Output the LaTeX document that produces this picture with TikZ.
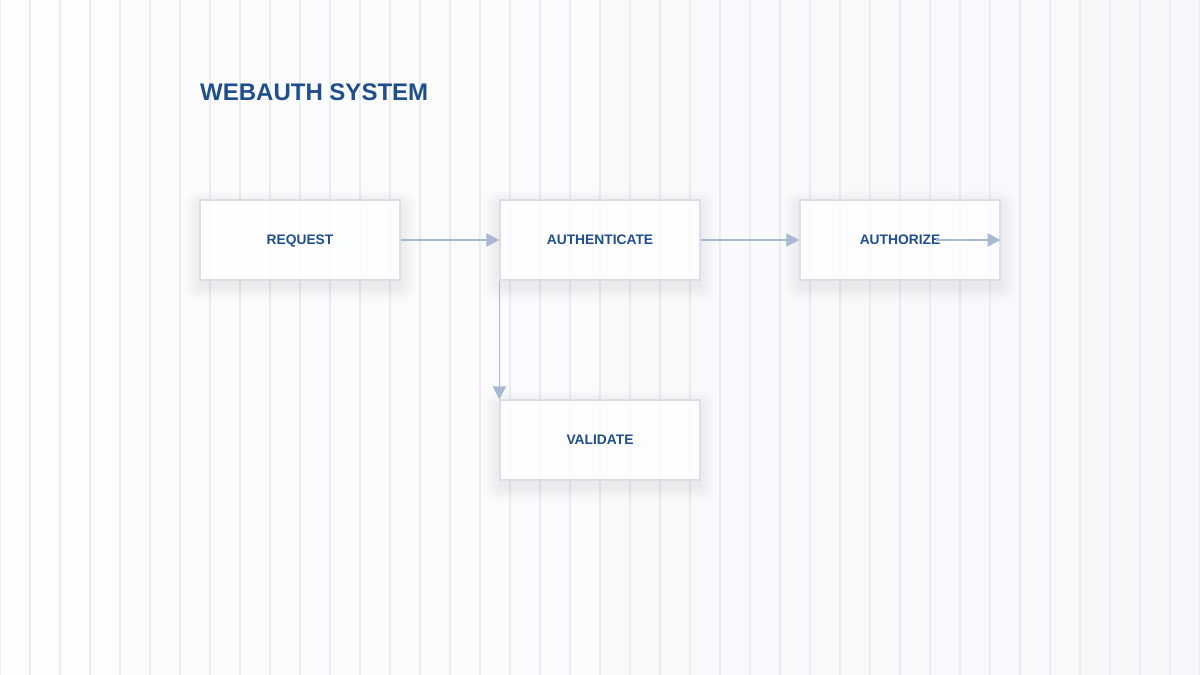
\documentclass[tikz,border=0pt]{standalone}
\usepackage{fontspec}
\setmainfont{Liberation Sans}
\usetikzlibrary{arrows.meta,calc}
\definecolor{bgA}{HTML}{FDFDFE}
\definecolor{bgB}{HTML}{F7F8F9}
\definecolor{gridc}{HTML}{E9ECF3}
\definecolor{boxline}{HTML}{D9DEE8}
\definecolor{txtc}{HTML}{1F4E8C}
\definecolor{arrc}{HTML}{A7B8D2}
\definecolor{shadc}{HTML}{8A94A8}
\tikzset{
  stepbox/.style={draw=boxline, line width=1.2pt, fill=white, fill opacity=0.75,
    text opacity=1, minimum width=200pt, minimum height=80pt, inner sep=0pt,
    text height=9.9pt, text depth=0pt,
    font=\bfseries\fontsize{13.8pt}{16pt}\selectfont, text=txtc},
  flow/.style={draw=arrc, line width=1.6pt, -{Triangle[length=13pt,width=13pt]}},
  gridline/.style={draw=gridc, line width=1.8pt},
  softshadow/.style={fill=shadc, fill opacity=0.009, draw=none}
}
\newcommand{\boxshadow}[2]{%
  \foreach \r in {1,...,16} {
    \fill[softshadow, rounded corners=\r pt] ($(#1)+(-100-\r,-40-\r+6)$) rectangle ($(#1)+(100+\r,40+\r+6)$);
  }%
}
\begin{document}
\begin{tikzpicture}[x=1pt,y=-1pt]
\useasboundingbox (0,0) rectangle (1200,675);
\shade[left color=bgA, right color=bgB] (0,0) rectangle (1200,675);
\foreach \i in {0,...,40} { \draw[gridline] (\i*30,0) -- (\i*30,675); }
\node[anchor=base west, font=\bfseries\fontsize{24pt}{28pt}\selectfont, text=txtc, inner sep=0pt] (title) at (200,100) {WEBAUTH SYSTEM};
\begin{scope}[even odd rule]
  \clip (0,0) rectangle (1200,675)
    (200,200) rectangle (400,280) (500,200) rectangle (700,280)
    (800,200) rectangle (1000,280) (500,400) rectangle (700,480);
  \foreach \c in {{300,240},{600,240},{900,240},{600,440}} { \boxshadow{\c}{} }
\end{scope}
\node[stepbox] (req) at (300,240) {REQUEST};
\node[stepbox] (auth) at (600,240) {AUTHENTICATE};
\node[stepbox] (authz) at (900,240) {AUTHORIZE};
\node[stepbox] (val) at (600,440) {VALIDATE};
\coordinate (azout) at (936,240);
\draw[flow] (req.east) -- (auth.west);
\draw[flow] (auth.east) -- (authz.west);
\draw[flow] (azout) -- (authz.east);
\draw[flow] (auth.south west) -- (val.north west);
\end{tikzpicture}
\end{document}
